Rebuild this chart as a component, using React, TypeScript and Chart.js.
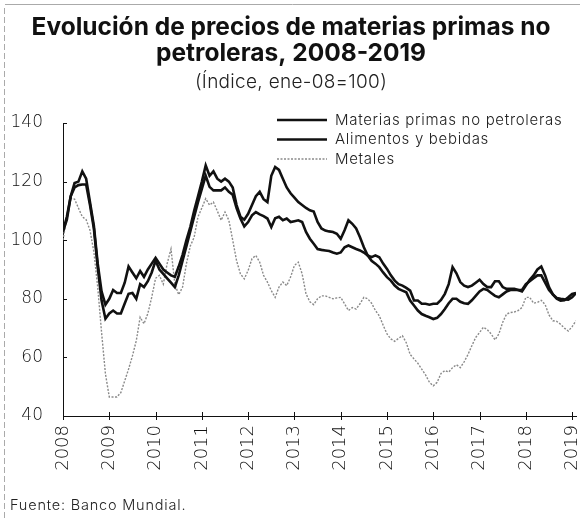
import React, { useEffect, useRef } from 'react';
import { Chart, registerables } from 'chart.js';

Chart.register(...registerables);

const titleLines = ['Evolución de precios de materias primas no', 'petroleras, 2008-2019'];
const subtitleText = '(Índice, ene-08=100)';
const sourceText = 'Fuente: Banco Mundial.';
const yearLabels = ['2008', '2009', '2010', '2011', '2012', '2013', '2014', '2015', '2016', '2017', '2018', '2019'];
const seriesNames = ['Materias primas no petroleras', 'Alimentos y bebidas', 'Metales'];

// Monthly values, Jan 2008 - Feb 2019
const materias = [
  103, 107, 115, 118, 118.8, 119, 119, 112, 104, 90.8, 79.4, 73.2,
  75, 76, 75, 75, 78.4, 81.7, 82, 80, 85, 84, 86, 89,
  93, 90, 88.5, 87, 85.5, 84, 88, 93, 98, 103, 108, 113,
  117.5, 122, 118.2, 117, 117, 117, 118, 116.5, 115.5, 111, 107.4, 104.7,
  106.2, 108.5, 109.6, 108.8, 108.2, 107.4, 104.5, 107.5, 108, 106.8, 107.4, 106.2,
  106.5, 106.8, 106.2, 102.8, 100.5, 98.8, 97, 96.7, 96.5, 96.3, 95.8, 95.4,
  95.8, 97.6, 98.2, 97.6, 97, 96.5, 95.8, 94.8, 93, 92, 90.8, 89,
  87.4, 86.2, 84.5, 83.4, 82.8, 82.2, 79.4, 77.7, 76, 74.8, 74.2, 73.7,
  73.1, 73.5, 74.8, 76.5, 78.5, 80, 80, 79, 78.5, 78.3, 79.5, 81,
  82.5, 83.4, 83, 82, 81, 80.5, 81.5, 82.5, 83, 83, 83, 83,
  85, 86, 87, 88, 88, 85.5, 83, 81.5, 80.3, 80, 79.8, 79.7,
  80.5, 82,
];

const alimentos = [
  103, 108, 115, 119.5, 120, 123.5, 121, 113, 105, 92, 82.5, 78,
  80, 83, 82, 82, 85.5, 91, 89, 87, 89.5, 87.5, 90, 92,
  94, 92, 90, 89, 88, 87.5, 91, 95, 100, 104.5, 110, 115,
  120, 125.5, 122, 123.5, 121, 120, 121, 120, 118, 112, 108, 107,
  109, 112, 115, 116.5, 114, 113, 122, 125, 124, 121, 118, 116,
  114.5, 113, 112, 111, 110.2, 109.8, 106.2, 104, 103.3, 103, 102.8, 102.2,
  100.5, 103.4, 106.8, 105.6, 104, 101, 97.6, 94.8, 94.2, 94.8, 94.2, 92,
  90.2, 88, 86.2, 85, 84.5, 83.7, 82.8, 79.4, 79.4, 78.3, 78.3, 78,
  78.3, 78.3, 79.6, 81.7, 85, 90.8, 88.7, 85.7, 84.5, 84, 84.5, 85.5,
  86.5, 85, 84, 84, 86, 86, 84, 83.4, 83.4, 83.4, 83, 82.5,
  84.5, 86.5, 88, 90, 91, 88, 84, 81.5, 80, 79.4, 79.5, 80.5,
  81.7, 82,
];

const metales = [
  100, 108, 114.3, 114, 111, 108, 107, 103.4, 96, 84, 68.5, 54.4,
  46.5, 46.5, 46.5, 48, 52, 56, 60.5, 65.7, 73.7, 71.5, 75, 80.5,
  87, 88, 85, 92, 97, 85, 81.4, 84, 92, 98, 101, 108,
  111, 114.2, 112, 113, 110, 106.8, 109.6, 106.8, 100, 93, 88.5, 86.8,
  89.7, 93.7, 94.8, 92.5, 88, 85.7, 82.8, 80.5, 84, 85.7, 84.5, 87.4,
  91.4, 92.5, 88.5, 81.7, 79, 78, 80, 81, 81, 80.5, 80, 80.3,
  80.5, 78.3, 76, 77, 76.5, 78.3, 80.5, 80, 78.5, 76, 74.2, 71,
  68, 66.3, 65.5, 66.5, 67.4, 65, 61, 59.5, 58, 56, 54, 51.5,
  50.3, 51.5, 54.5, 55.5, 55, 56.5, 57.5, 56.5, 58.5, 61, 64, 66.8,
  68.5, 70.3, 69.5, 68, 66, 68, 72, 74.8, 75.3, 75.5, 76, 77,
  80.5, 80.5, 78.5, 78.8, 79.5, 78, 74.5, 72.5, 72.3, 71.3, 70, 69,
  70.5, 72.5,
];

const monthIndex = materias.map((_, i) => i);

const FONT = 'Inter';
const TICK_FONT = 'DejaVu Sans';

const decorPlugin = {
  id: 'decor',
  afterDraw(chart: any) {
    const { ctx, scales } = chart;
    const xs = scales.x;
    const ys = scales.y;
    ctx.save();
    // tick marks: x crossing the axis, y pointing inward
    ctx.strokeStyle = '#111';
    ctx.lineWidth = 1;
    xs.ticks.forEach((t: any) => {
      const px = Math.round(xs.getPixelForValue(t.value)) + 0.5;
      ctx.beginPath();
      ctx.moveTo(px, ys.bottom - 4);
      ctx.lineTo(px, ys.bottom + 4);
      ctx.stroke();
    });
    ys.ticks.forEach((t: any) => {
      const py = Math.round(ys.getPixelForValue(t.value)) + 0.5;
      ctx.beginPath();
      ctx.moveTo(xs.left, py);
      ctx.lineTo(xs.left + 4, py);
      ctx.stroke();
    });

    // title and subtitle
    ctx.letterSpacing = '0px';
    ctx.fillStyle = '#111';
    ctx.textAlign = 'center';
    ctx.textBaseline = 'alphabetic';
    ctx.font = `700 24.5px ${FONT}`;
    ctx.fillText(titleLines[0], 291, 35);
    ctx.fillText(titleLines[1], 291, 61);
    ctx.font = `300 19px ${FONT}`;
    ctx.fillStyle = '#222';
    ctx.letterSpacing = '0.3px';
    ctx.fillText(subtitleText, 291, 88);

    // legend
    const items = chart.data.datasets;
    const lx0 = 277;
    const lx1 = 327;
    const ly0 = 120;
    const dy = 19.5;
    ctx.font = `300 15px ${FONT}`;
    ctx.letterSpacing = '0.7px';
    ctx.textBaseline = 'middle';
    ctx.textAlign = 'left';
    items.forEach((ds: any, i: number) => {
      const yy = ly0 + i * dy;
      ctx.beginPath();
      ctx.strokeStyle = ds.borderColor;
      ctx.lineWidth = ds.borderWidth;
      ctx.setLineDash(ds.borderDash || []);
      ctx.moveTo(lx0, yy);
      ctx.lineTo(lx1, yy);
      ctx.stroke();
      ctx.setLineDash([]);
      ctx.fillStyle = '#222';
      ctx.fillText(ds.label, 335, yy);
    });

    // source
    ctx.font = `300 14.5px ${FONT}`;
    ctx.letterSpacing = '0.8px';
    ctx.fillStyle = '#222';
    ctx.fillText(sourceText, 10, 506);
    ctx.letterSpacing = '0px';

    // scan border artefacts
    ctx.strokeStyle = '#aaa';
    ctx.lineWidth = 1;
    ctx.setLineDash([6, 3]);
    ctx.beginPath();
    ctx.moveTo(4.5, 8);
    ctx.lineTo(4.5, 518);
    ctx.stroke();
    ctx.setLineDash([]);
    ctx.beginPath();
    ctx.moveTo(5, 4.5);
    ctx.lineTo(580, 4.5);
    ctx.stroke();
    ctx.restore();
  },
};

export default function App() {
  const ref = useRef<HTMLCanvasElement | null>(null);
  useEffect(() => {
    if (!ref.current) return;
    const chart = new Chart(ref.current, {
      type: 'line',
      data: {
        labels: monthIndex,
        datasets: [
          {
            label: seriesNames[0],
            data: materias,
            borderColor: '#111',
            borderWidth: 2.6,
            pointRadius: 0,
            tension: 0,
          },
          {
            label: seriesNames[1],
            data: alimentos,
            borderColor: '#111',
            borderWidth: 2.6,
            pointRadius: 0,
            tension: 0,
          },
          {
            label: seriesNames[2],
            data: metales,
            borderColor: '#8a8a8a',
            borderWidth: 1.4,
            borderDash: [2, 1.5],
            pointRadius: 0,
            tension: 0,
          },
        ],
      },
      options: {
        animation: false,
        responsive: true,
        maintainAspectRatio: false,
        layout: { padding: { left: 10, right: 6, top: 123, bottom: 46 } },
        plugins: {
          legend: { display: false },
          tooltip: { enabled: false },
          title: { display: false },
        },
        scales: {
          x: {
            type: 'linear',
            min: 0,
            max: monthIndex.length - 1,
            border: { color: '#111', width: 1 },
            grid: { drawOnChartArea: false, drawTicks: false },
            afterFit: (s: any) => {
              s.paddingLeft = 0;
              s.paddingRight = 0;
              s.height = 56;
            },
            ticks: {
              stepSize: 12,
              includeBounds: false,
              autoSkip: false,
              maxRotation: 90,
              minRotation: 90,
              padding: 9,
              color: '#111',
              font: { family: TICK_FONT, size: 18, weight: '200' },
              callback: (v: any) => yearLabels[Math.round(Number(v) / 12)],
            },
          },
          y: {
            min: 40,
            max: 140,
            border: { color: '#111', width: 1 },
            grid: { drawOnChartArea: false, drawTicks: false },
            afterFit: (s: any) => {
              s.paddingTop = 0;
              s.paddingBottom = 0;
              s.width = 53;
            },
            ticks: {
              stepSize: 20,
              padding: 20,
              color: '#111',
              font: { family: TICK_FONT, size: 17, weight: '200' },
            },
          },
        },
      },
      plugins: [decorPlugin],
    });
    return () => chart.destroy();
  }, []);
  return (
    <div style={{ position: 'absolute', left: 0, top: 0, width: 582, height: 518, background: '#fff' }}>
      <canvas ref={ref} />
    </div>
  );
}
